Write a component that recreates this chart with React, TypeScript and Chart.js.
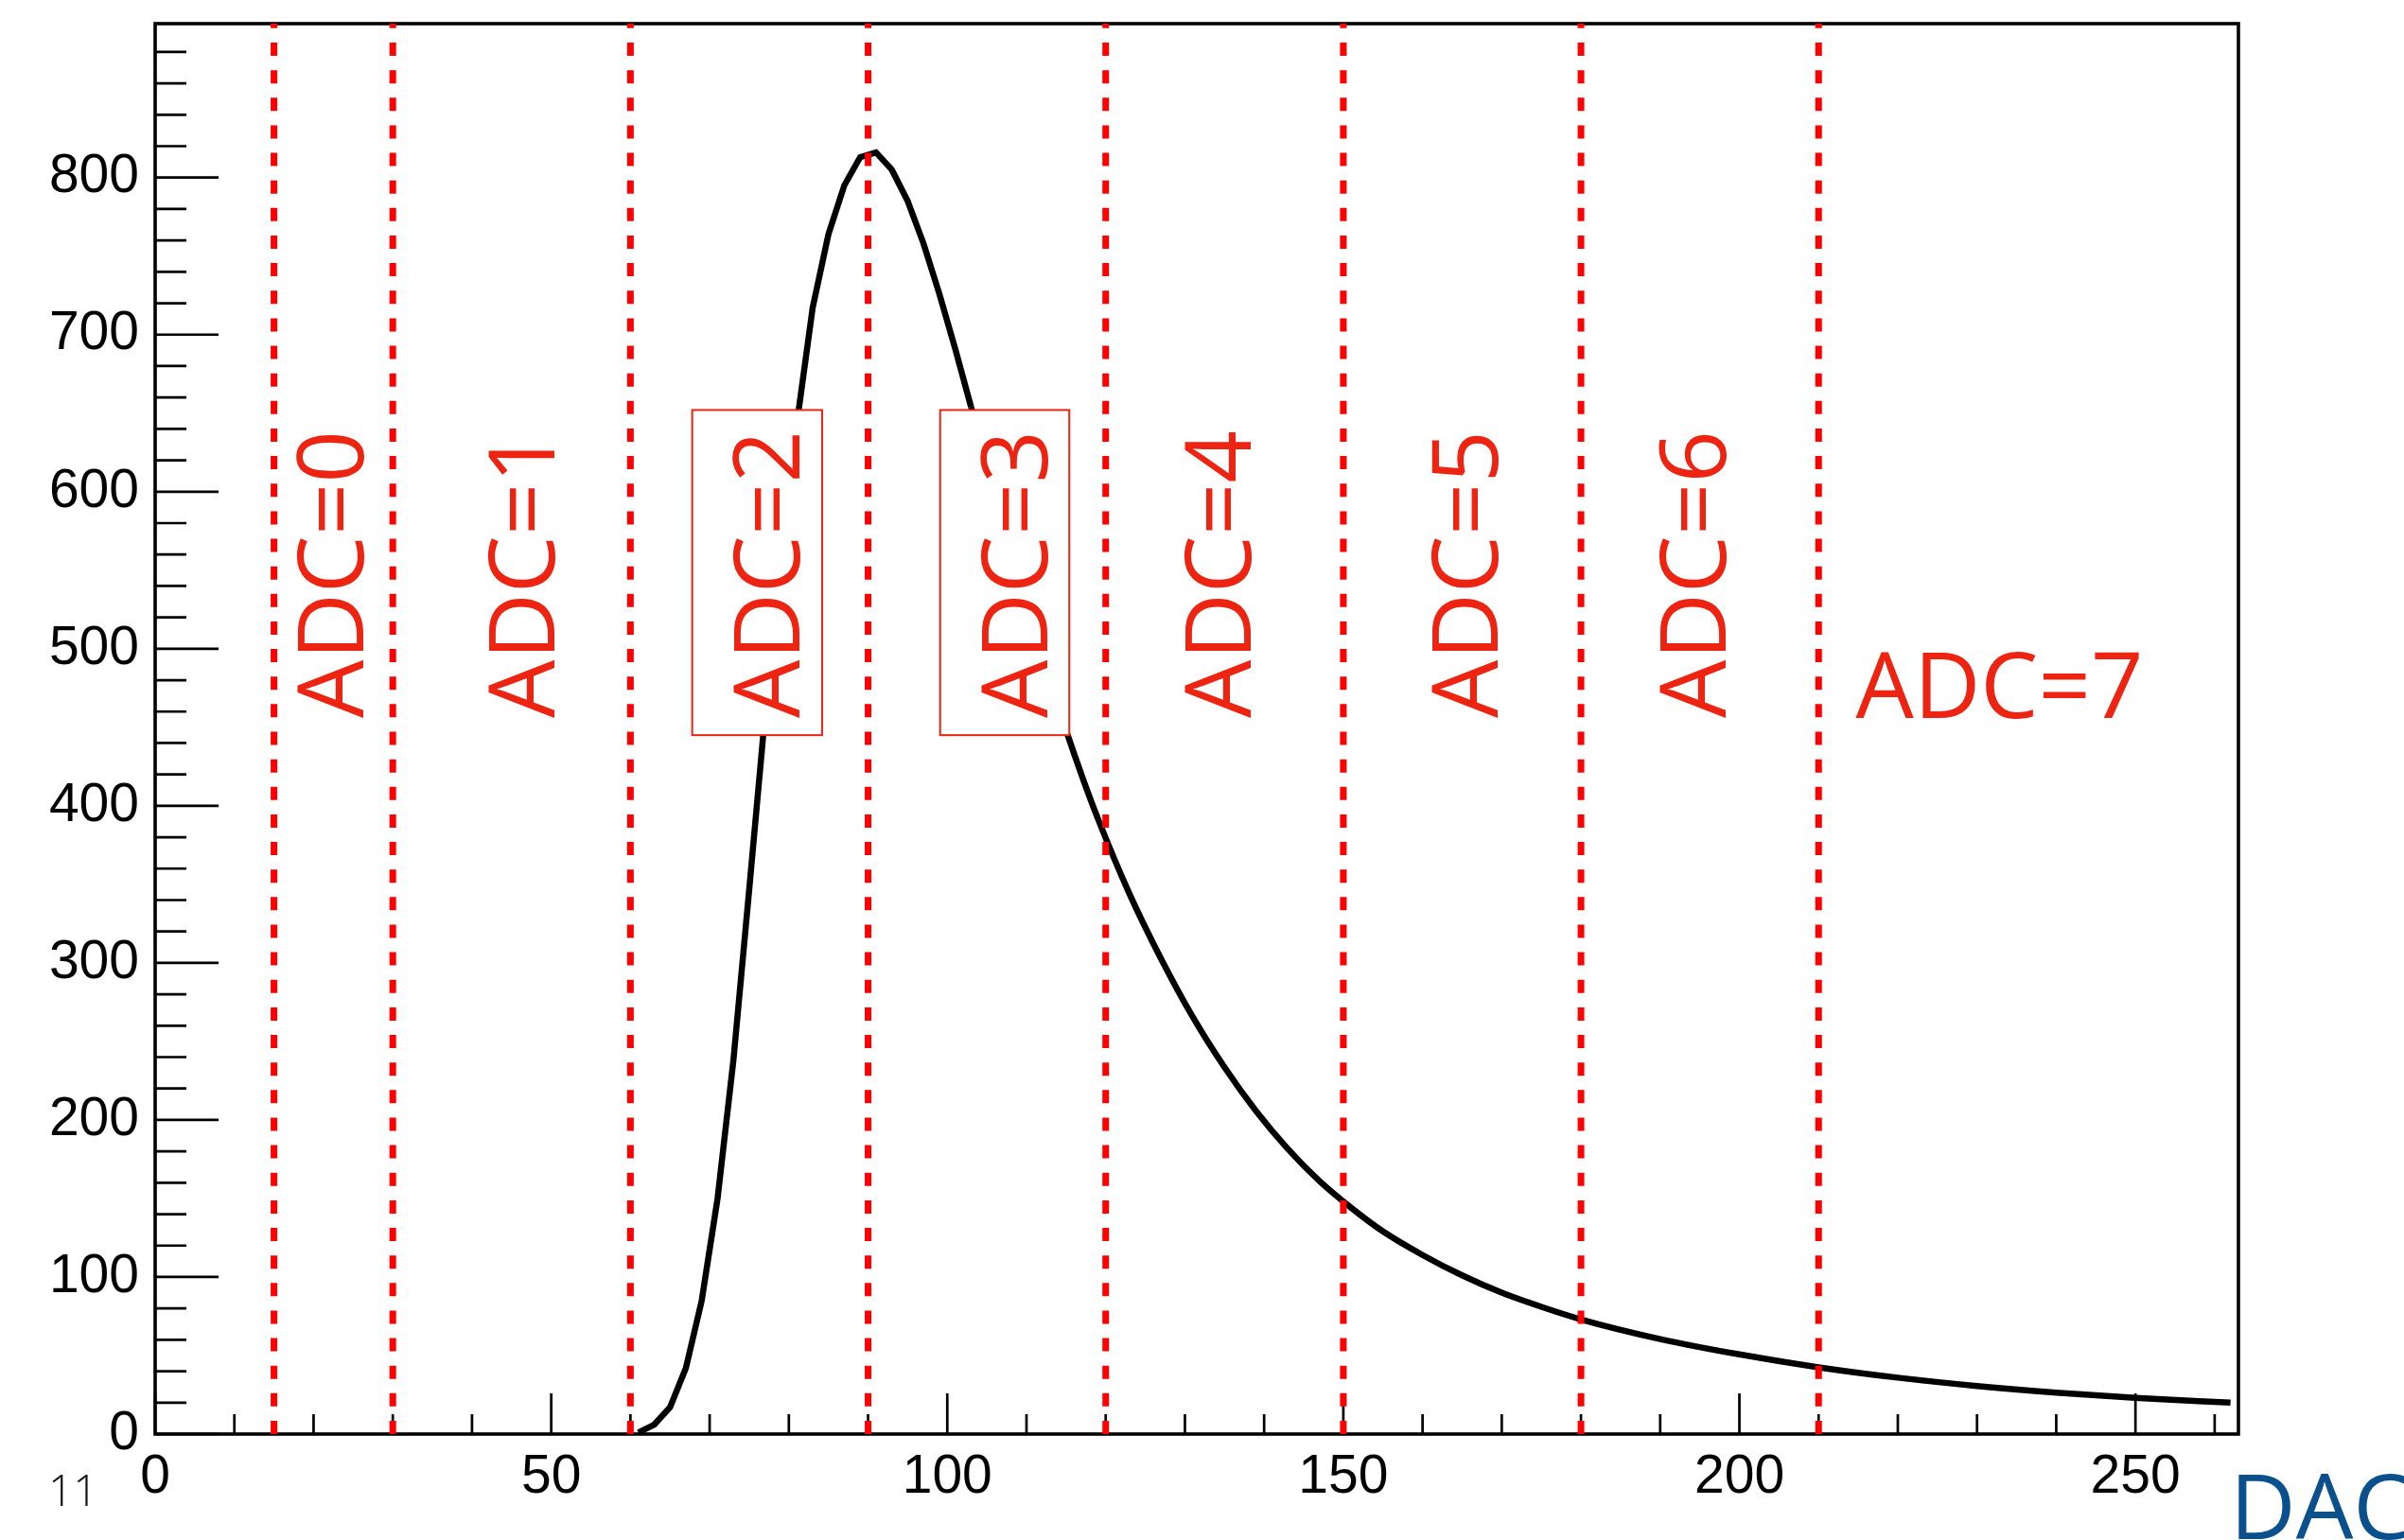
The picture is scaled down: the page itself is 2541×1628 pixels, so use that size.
import { useEffect, useRef } from "react";
import { Chart, registerables } from "chart.js";

Chart.register(...registerables);

// DAC sampling points of the response curve and the counts read at each
const riseDac = [
  61, 63, 65, 67, 69, 71, 73, 75, 77, 79, 81, 83, 85, 87, 89, 91, 93, 95, 97, 99, 101, 103,
];
const riseCounts = [
  1, 6, 17, 42, 85, 150, 238, 347, 458, 560, 643, 717, 764, 795, 813, 816, 805, 785, 758, 726, 691, 654,
];
const tailDac = [
  103, 105, 107, 109, 111, 113, 115, 117, 119, 123, 127, 131, 135, 139, 143,
  147, 151, 155, 160, 165, 170, 175, 180, 190, 200, 210, 220, 230, 240, 250, 262,
];
const tailCounts = [
  654, 617, 581, 546, 512, 479, 448, 419, 392, 344, 302.5, 265.5, 233.5, 205.5, 181.5,
  161, 144, 129, 114, 101, 90, 81, 73, 60.5, 50.7, 42.5, 35.9, 30.6, 26.4, 23.1, 20,
];

// Axis ranges and labelled ticks
const xMax = 263;
const yMax = 898;
const xTicks = [0, 50, 100, 150, 200, 250];
const yTicks = [0, 100, 200, 300, 400, 500, 600, 700, 800];

// ADC thresholds (DAC values) drawn as dashed lines
const thresholds = [15, 30, 60, 90, 120, 150, 180, 210];

// Vertical region labels and their horizontal centres (DAC units)
const regionLabels = ["ADC=0", "ADC=1", "ADC=2", "ADC=3", "ADC=4", "ADC=5", "ADC=6"];
const regionCenters = [22.1, 46.3, 77.2, 108.5, 134.2, 165.4, 194.1];
// Labels that sit inside a framed white box: [label index, xMin, xMax]
const boxedLabels: [number, number, number][] = [
  [2, 67.8, 84.2],
  [3, 99.1, 115.4],
];
const boxYRange = [445, 652];
const labelStartY = 456;
// Last region label, drawn horizontally
const lastLabel = "ADC=7";
const lastLabelX = 214.7;

const axisTitle = "DAC";
const cornerText = "11";

const LABEL_RED = "rgb(238,36,18)";
const LINE_RED = "#ff0000";
const LABEL_FONT_SIZE = 97;
const LABEL_FONT = `${LABEL_FONT_SIZE}px "Open Sans"`;

const framePlugin = {
  id: "rootFrame",
  beforeDatasetsDraw(chart: any) {
    const { ctx, chartArea: a, scales } = chart;
    const xs = scales.x;
    const ys = scales.y;
    ctx.save();
    ctx.strokeStyle = "#000";
    ctx.lineWidth = 2.7;
    ctx.beginPath();
    for (let v = 0; v <= 880; v += 20) {
      const y = ys.getPixelForValue(v);
      const len = v % 100 === 0 ? 67 : 33;
      ctx.moveTo(a.left, y);
      ctx.lineTo(a.left + len, y);
    }
    for (let v = 0; v <= 260; v += 10) {
      const x = xs.getPixelForValue(v);
      const len = v % 50 === 0 ? 43 : 21;
      ctx.moveTo(x, a.bottom);
      ctx.lineTo(x, a.bottom - len);
    }
    ctx.stroke();
    ctx.lineWidth = 3.6;
    ctx.strokeRect(a.left, a.top, a.right - a.left, a.bottom - a.top);
    ctx.restore();
  },
};

const overlayPlugin = {
  id: "adcOverlay",
  afterDatasetsDraw(chart: any) {
    const { ctx, chartArea: a, scales } = chart;
    const xs = scales.x;
    const ys = scales.y;
    ctx.save();

    // threshold lines
    ctx.strokeStyle = LINE_RED;
    ctx.lineWidth = 7;
    ctx.lineCap = "butt";
    ctx.setLineDash([14, 15.14]);
    for (const t of thresholds) {
      const x = xs.getPixelForValue(t);
      ctx.beginPath();
      ctx.moveTo(x, a.bottom);
      ctx.lineTo(x, a.top);
      ctx.stroke();
    }
    ctx.setLineDash([]);

    // framed boxes
    ctx.lineWidth = 2;
    ctx.strokeStyle = LABEL_RED;
    for (const [, x0, x1] of boxedLabels) {
      const left = xs.getPixelForValue(x0);
      const right = xs.getPixelForValue(x1);
      const top = ys.getPixelForValue(boxYRange[1]);
      const bottom = ys.getPixelForValue(boxYRange[0]);
      ctx.fillStyle = "#fff";
      ctx.fillRect(left, top, right - left, bottom - top);
      ctx.strokeRect(left, top, right - left, bottom - top);
    }

    // region labels
    ctx.fillStyle = LABEL_RED;
    ctx.font = LABEL_FONT;
    ctx.textAlign = "left";
    ctx.textBaseline = "alphabetic";
    const capH = LABEL_FONT_SIZE * 0.714;
    const y0 = ys.getPixelForValue(labelStartY);
    regionLabels.forEach((label, i) => {
      const cx = xs.getPixelForValue(regionCenters[i]);
      ctx.save();
      ctx.translate(cx + capH / 2, y0);
      ctx.rotate(-Math.PI / 2);
      ctx.fillText(label, 0, 0);
      ctx.restore();
    });
    ctx.fillText(lastLabel, xs.getPixelForValue(lastLabelX), y0);
    ctx.restore();
  },
  afterDraw(chart: any) {
    const { ctx } = chart;
    ctx.save();
    ctx.textAlign = "left";
    ctx.textBaseline = "alphabetic";
    ctx.fillStyle = "rgb(10,80,140)";
    ctx.font = '96px "Open Sans"';
    ctx.fillText(axisTitle, 2357, 1627);
    ctx.fillStyle = "#111";
    ctx.font = '300 46px "Open Sans"';
    ctx.fillText(cornerText, 51, 1592);
    ctx.restore();
  },
};

export default function App() {
  const ref = useRef<HTMLCanvasElement | null>(null);

  useEffect(() => {
    document.body.style.margin = "0";
    const canvas = ref.current;
    if (!canvas) return;
    const tickFont = { family: '"Liberation Sans", Arial, sans-serif', size: 57 };
    const curveStyle = {
      borderColor: "#000",
      borderWidth: 6.5,
      pointRadius: 0,
      fill: false,
    };
    const chart = new Chart(canvas, {
      type: "line",
      data: {
        datasets: [
          {
            ...curveStyle,
            data: riseDac.map((x, i) => ({ x, y: riseCounts[i] })),
            tension: 0,
          },
          {
            ...curveStyle,
            data: tailDac.map((x, i) => ({ x, y: tailCounts[i] })),
            cubicInterpolationMode: "monotone",
          },
        ],
      },
      options: {
        responsive: false,
        animation: false,
        devicePixelRatio: 1,
        layout: { padding: { top: 25, right: 175, left: 0, bottom: 0 } },
        plugins: { legend: { display: false }, tooltip: { enabled: false } },
        scales: {
          x: {
            type: "linear",
            min: 0,
            max: xMax,
            afterBuildTicks(s: any) {
              s.ticks = xTicks.map((value) => ({ value }));
            },
            afterFit(s: any) {
              s.height = 112;
              s.paddingLeft = 0;
              s.paddingRight = 0;
            },
            grid: { display: false, drawTicks: false },
            border: { display: false },
            ticks: {
              autoSkip: false,
              maxRotation: 0,
              padding: 12,
              color: "#000",
              font: tickFont,
            },
          },
          y: {
            type: "linear",
            min: 0,
            max: yMax,
            afterBuildTicks(s: any) {
              s.ticks = yTicks.map((value) => ({ value }));
            },
            afterFit(s: any) {
              s.width = 164;
              s.paddingTop = 0;
              s.paddingBottom = 0;
            },
            grid: { display: false, drawTicks: false },
            border: { display: false },
            ticks: {
              autoSkip: false,
              padding: 17,
              color: "#000",
              font: tickFont,
            },
          },
        },
      } as any,
      plugins: [framePlugin, overlayPlugin],
    });
    return () => chart.destroy();
  }, []);

  return (
    <canvas
      ref={ref}
      width={2541}
      height={1628}
      style={{ display: "block", width: "2541px", height: "1628px" }}
    />
  );
}
